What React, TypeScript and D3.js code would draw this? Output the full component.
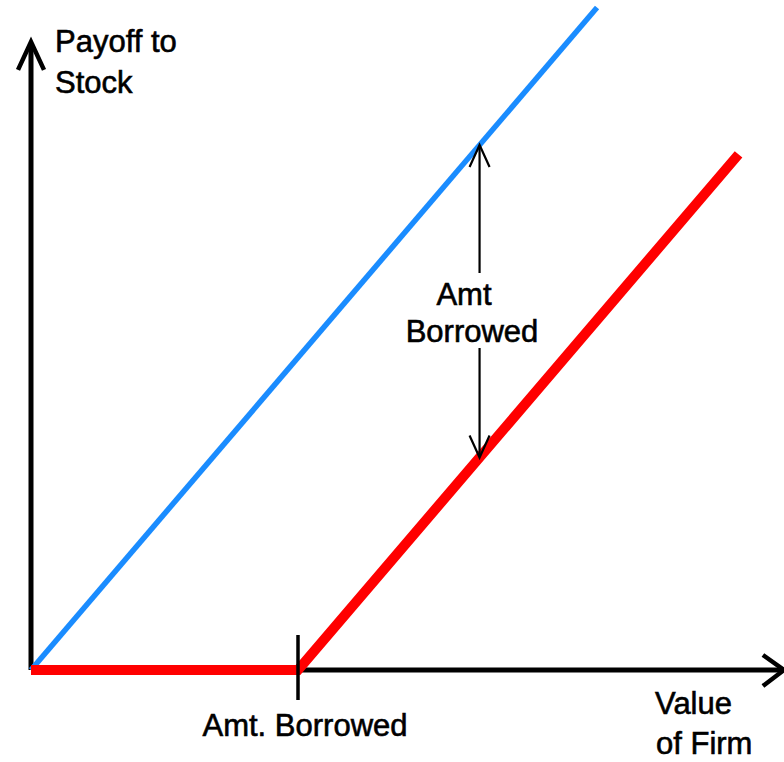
import React from "react";
import * as d3 from "d3";

// Data (units of firm value / payoff)
const amtBorrowed = 50;
const unleveredValue = [0, 106];
const unleveredPayoff = [0, 106];
const leveredValue = [0, amtBorrowed, 132.5];
const leveredPayoff = [0, 0, 82.5];
const gapAt = 84;
const xAxisMax = 141;
const yAxisMax = 100.5;

const W = 784;
const H = 762;

export default function App() {
  const x = d3.scaleLinear().domain([0, 50]).range([31, 298]);
  const y = d3.scaleLinear().domain([0, 100]).range([670, 45]);
  const line = d3
    .line<[number, number]>()
    .x((d) => x(d[0]))
    .y((d) => y(d[1]));

  const blue = unleveredValue.map((v, i) => [v, unleveredPayoff[i]] as [number, number]);
  const red = leveredValue.map((v, i) => [v, leveredPayoff[i]] as [number, number]);

  const x0 = x(0);
  const y0 = y(0);
  const xEnd = x(xAxisMax);
  const yEnd = y(yAxisMax);
  const tickX = x(amtBorrowed);
  const gx = x(gapAt);
  const gTop = y(gapAt);
  const gBot = y(gapAt - amtBorrowed);

  const font = "'Liberation Sans', Arial, sans-serif";
  const fs = 31;
  const tStyle = { stroke: "#000", strokeWidth: 0.6 } as const;

  return (
    <svg
      width={W}
      height={H}
      style={{ position: "absolute", left: 0, top: 0, background: "#fff" }}
      fontFamily={font}
    >
      <rect width={W} height={H} fill="#fff" />
      {/* axes */}
      <line x1={x0} y1={y0} x2={x0} y2={yEnd + 2} stroke="#000" strokeWidth={5} />
      <polyline
        points={`${x0 - 13},${yEnd + 28} ${x0},${yEnd} ${x0 + 13},${yEnd + 28}`}
        fill="none"
        stroke="#000"
        strokeWidth={4.5}
      />
      <line x1={x0} y1={y0} x2={xEnd - 2} y2={y0} stroke="#000" strokeWidth={5} />
      <polyline
        points={`${xEnd - 21},${y0 - 15} ${xEnd},${y0} ${xEnd - 21},${y0 + 16}`}
        fill="none"
        stroke="#000"
        strokeWidth={4.5}
      />
      {/* blue line */}
      <path d={line(blue) || ""} fill="none" stroke="#1a8cff" strokeWidth={5.5} />
      {/* red line */}
      <path d={line(red) || ""} fill="none" stroke="#ff0000" strokeWidth={10} strokeLinejoin="miter" />
      {/* tick */}
      <line x1={tickX} y1={y0 - 35} x2={tickX} y2={y0 + 30} stroke="#000" strokeWidth={3.5} />
      {/* gap arrow */}
      <line x1={gx} y1={gTop + 1} x2={gx} y2={273} stroke="#000" strokeWidth={2.2} />
      <line x1={gx} y1={348} x2={gx} y2={gBot - 1} stroke="#000" strokeWidth={2.2} />
      <polyline
        points={`${gx - 10},${gTop + 22} ${gx},${gTop} ${gx + 10},${gTop + 22}`}
        fill="none"
        stroke="#000"
        strokeWidth={2.2}
      />
      <polyline
        points={`${gx - 10},${gBot - 22} ${gx},${gBot} ${gx + 10},${gBot - 22}`}
        fill="none"
        stroke="#000"
        strokeWidth={2.2}
      />
      {/* texts */}
      <text x={55} y={52} fontSize={fs} fill="#000" {...tStyle}>Payoff to</text>
      <text x={55} y={93} fontSize={fs} fill="#000" {...tStyle}>Stock</text>
      <text x={464} y={305} fontSize={fs} fill="#000" textAnchor="middle" {...tStyle}>Amt</text>
      <text x={472} y={342} fontSize={fs} fill="#000" textAnchor="middle" {...tStyle}>Borrowed</text>
      <text x={305} y={736} fontSize={fs} fill="#000" textAnchor="middle" {...tStyle}>Amt. Borrowed</text>
      <text x={655} y={714} fontSize={fs} fill="#000" {...tStyle}>Value</text>
      <text x={656} y={754} fontSize={fs} fill="#000" {...tStyle}>of Firm</text>
    </svg>
  );
}
